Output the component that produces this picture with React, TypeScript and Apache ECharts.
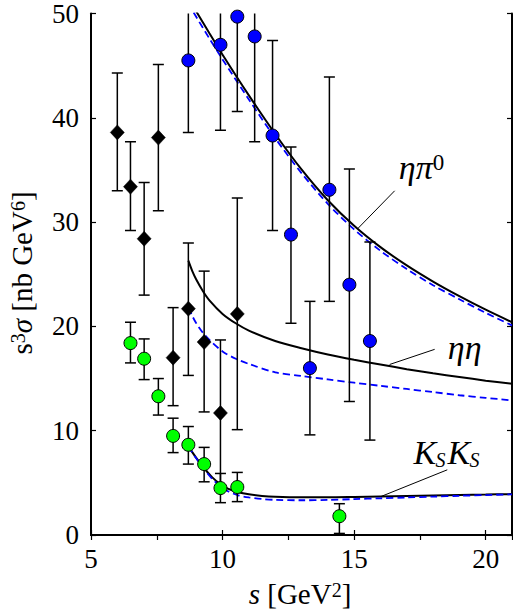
import React, { useEffect, useRef } from 'react';
import * as echarts from 'echarts';

// ---- data: eta pi0 (blue circles) ----
const etaPiX = [8.7, 9.92, 10.56, 11.22, 11.9, 12.6, 13.32, 14.06, 14.82, 15.6];
const etaPiY = [45.5, 47.0, 49.7, 47.8, 38.3, 28.8, 16.0, 33.1, 24.0, 18.6];
const etaPiLo = [38.6, 38.8, 40.6, 37.7, 29.2, 20.3, 9.6, 22.4, 12.8, 9.1];
const etaPiHi = [52.4, 55.2, 58.8, 57.9, 47.4, 37.2, 22.4, 43.9, 35.1, 28.1];

// ---- data: eta eta (black diamonds) ----
const etaEtaX = [6.0, 6.5, 7.02, 7.56, 8.12, 8.7, 9.3, 9.92, 10.56];
const etaEtaY = [38.6, 33.4, 28.4, 38.1, 17.0, 21.7, 18.5, 11.7, 21.2];
const etaEtaLo = [33.0, 29.2, 23.0, 31.1, 12.4, 15.3, 11.8, 4.8, 10.1];
const etaEtaHi = [44.3, 37.7, 33.8, 45.1, 21.8, 28.0, 25.3, 18.7, 32.3];

// ---- data: KsKs (green circles) ----
const ksX = [6.5, 7.02, 7.56, 8.12, 8.7, 9.3, 9.92, 10.56, 14.44];
const ksY = [18.4, 16.9, 13.3, 9.5, 8.65, 6.8, 4.5, 4.6, 1.8];
const ksLo = [16.5, 14.9, 11.5, 7.9, 6.8, 5.1, 3.1, 3.2, 0.15];
const ksHi = [20.4, 18.8, 15.0, 11.2, 10.4, 8.4, 5.9, 6.0, 3.0];

// ---- theory curves ----
const piCurveX = [9.0, 9.5, 10, 11, 12, 13, 14, 15, 16, 17, 18, 19, 20, 21];
const piCurveY = [50.2, 48.1, 46.05, 42.15, 38.45, 35.05, 32.1, 29.65, 27.6, 25.85, 24.3, 22.9, 21.6, 20.4];
const piDashX = [8.9, 9.5, 10, 11, 12, 13, 14, 15, 16, 17, 18, 19, 20, 21];
const piDashY = [50.1, 47.6, 45.6, 41.75, 38.05, 34.7, 31.75, 29.3, 27.25, 25.5, 23.95, 22.6, 21.3, 20.1];

const eeCurveX = [8.7, 8.85, 9.0, 9.25, 9.5, 10, 10.5, 11, 12, 13, 14, 15, 16, 17, 18, 19, 20, 21];
const eeCurveY = [26.3, 25.3, 24.5, 23.4, 22.5, 21.2, 20.3, 19.6, 18.6, 17.9, 17.3, 16.8, 16.35, 15.9, 15.5, 15.15, 14.8, 14.5];
const eeDashX = [8.7, 8.85, 9.0, 9.25, 9.5, 10, 10.5, 11, 12, 13, 14, 15, 16, 17, 18, 19, 20, 21];
const eeDashY = [21.8, 21.0, 20.3, 19.4, 18.7, 17.6, 16.9, 16.4, 15.6, 15.25, 14.92, 14.6, 14.3, 14.0, 13.7, 13.4, 13.15, 12.9];

const ksCurveX = [8.7, 9.0, 9.3, 9.6, 9.9, 10.2, 10.6, 11, 11.5, 12, 13, 14, 15, 16, 17, 18, 19, 20, 21];
const ksCurveY = [8.5, 7.4, 6.4, 5.55, 4.9, 4.45, 4.1, 3.9, 3.75, 3.67, 3.62, 3.62, 3.65, 3.69, 3.74, 3.79, 3.84, 3.88, 3.92];
const ksDashX = [8.7, 9.0, 9.3, 9.6, 9.9, 10.2, 10.6, 11, 11.5, 12, 13, 14, 15, 16, 17, 18, 19, 20, 21];
const ksDashY = [8.5, 7.35, 6.3, 5.4, 4.7, 4.2, 3.8, 3.6, 3.45, 3.37, 3.33, 3.36, 3.44, 3.52, 3.6, 3.68, 3.76, 3.83, 3.9];

// ---- annotations (data coordinates) ----
const annTextPos = [[17.56, 35.2], [19.2, 18.0], [18.55, 7.9]];
const annTail = [[16.54, 33.0], [18.06, 17.8], [18.54, 6.25]];
const annTip = [[15.14, 29.38], [16.35, 16.35], [16.03, 3.7]];

const xTickLabels = [5, 10, 15, 20];
const yTickLabels = [0, 10, 20, 30, 40, 50];

const SERIF = "'Liberation Serif', 'DejaVu Serif', serif";

const zip = (xs: number[], ys: number[]) => xs.map((x, i) => [x, ys[i]]);
const zip3 = (xs: number[], lo: number[], hi: number[]) => xs.map((x, i) => [x, lo[i], hi[i]]);

function errorBarRender(params: any, api: any) {
  const x = api.value(0);
  const lo = api.coord([x, api.value(1)]);
  const hi = api.coord([x, api.value(2)]);
  const w = 5.5;
  const style = { stroke: '#000', lineWidth: 1.5, fill: 'none' };
  return {
    type: 'group',
    children: [
      { type: 'line', shape: { x1: lo[0], y1: lo[1], x2: hi[0], y2: hi[1] }, style },
      { type: 'line', shape: { x1: lo[0] - w, y1: lo[1], x2: lo[0] + w, y2: lo[1] }, style },
      { type: 'line', shape: { x1: hi[0] - w, y1: hi[1], x2: hi[0] + w, y2: hi[1] }, style },
    ],
  };
}

export default function App() {
  const ref = useRef<HTMLDivElement>(null);
  useEffect(() => {
    const chart = echarts.init(ref.current!, null, { renderer: 'svg' });
    const axisLine = { show: true, lineStyle: { color: '#000', width: 2 } };
    const tick = { show: true, inside: true, length: 5, lineStyle: { color: '#000', width: 1.2 } };
    const curve = (data: number[][], dashed: boolean, extra: any = {}) => ({
      type: 'line',
      data,
      showSymbol: false,
      symbol: 'none',
      smooth: 0.3,
      clip: true,
      lineStyle: dashed
        ? { color: '#0000ff', width: 1.8, type: [7, 4] }
        : { color: '#000', width: 2, type: 'solid' },
      z: 2,
      ...extra,
    });
    const arrow = (i: number) => ({
      silent: true,
      symbol: ['none', 'arrow'],
      symbolSize: [0, 9],
      label: { show: false },
      lineStyle: { color: '#000', width: 1, type: 'solid' },
      data: [[{ coord: annTail[i] }, { coord: annTip[i] }]],
    });
    const option: any = {
      animation: false,
      backgroundColor: '#fff',
      grid: { left: 91, right: 1, top: 9, bottom: 74 },
      xAxis: [
        {
          type: 'value', min: 5, max: 21, interval: 5, position: 'bottom',
          axisLine, axisTick: tick, splitLine: { show: false },
          axisLabel: {
            color: '#000', fontFamily: SERIF, fontSize: 27, margin: 10, showMaxLabel: false,
            formatter: (v: number) => (xTickLabels.includes(v) ? String(v) : ''),
          },
        },
        {
          type: 'value', min: 5, max: 21, interval: 2.5, position: 'top',
          axisLine, axisTick: tick, splitLine: { show: false }, axisLabel: { show: false },
        },
      ],
      yAxis: [
        {
          type: 'value', min: 0, max: 50, interval: 10, position: 'left',
          axisLine, axisTick: tick, splitLine: { show: false },
          axisLabel: {
            color: '#000', fontFamily: SERIF, fontSize: 27, margin: 12,
            formatter: (v: number) => (yTickLabels.includes(v) ? String(v) : ''),
          },
        },
        {
          type: 'value', min: 0, max: 50, interval: 10, position: 'right',
          axisLine, axisTick: tick, splitLine: { show: false }, axisLabel: { show: false },
        },
      ],
      series: [
        curve(zip(piCurveX, piCurveY), false, { markLine: arrow(0) }),
        curve(zip(piDashX, piDashY), true),
        curve(zip(eeCurveX, eeCurveY), false, { markLine: arrow(1) }),
        curve(zip(eeDashX, eeDashY), true),
        curve(zip(ksCurveX, ksCurveY), false, { markLine: arrow(2) }),
        curve(zip(ksDashX, ksDashY), true),
        { type: 'custom', renderItem: errorBarRender, data: zip3(etaPiX, etaPiLo, etaPiHi), clip: true, z: 3, silent: true },
        { type: 'custom', renderItem: errorBarRender, data: zip3(etaEtaX, etaEtaLo, etaEtaHi), clip: true, z: 3, silent: true },
        { type: 'custom', renderItem: errorBarRender, data: zip3(ksX, ksLo, ksHi), clip: true, z: 3, silent: true },
        {
          type: 'scatter', data: zip(etaPiX, etaPiY), symbol: 'circle', symbolSize: 13, clip: false, z: 4,
          itemStyle: { color: '#0000ff', borderColor: '#000', borderWidth: 1, opacity: 1 },
        },
        {
          type: 'scatter', data: zip(etaEtaX, etaEtaY), symbol: 'diamond', symbolSize: [14, 15], clip: false, z: 4,
          itemStyle: { color: '#000', borderColor: '#000', borderWidth: 0.5, opacity: 1 },
        },
        {
          type: 'scatter', data: zip(ksX, ksY), symbol: 'circle', symbolSize: 13, clip: false, z: 4,
          itemStyle: { color: '#00ff00', borderColor: '#000', borderWidth: 1, opacity: 1 },
        },
      ],
    };
    chart.setOption(option);

    const px = (p: number[]) => chart.convertToPixel({ xAxisIndex: 0, yAxisIndex: 0 }, p) as number[];
    const ital = { fontFamily: SERIF, fontStyle: 'italic', fontSize: 34, fill: '#000' };
    const rich = {
      i: { fontFamily: SERIF, fontStyle: 'italic', fontSize: 34, color: '#000' },
      r: { fontFamily: SERIF, fontSize: 29, color: '#000' },
      ri: { fontFamily: SERIF, fontStyle: 'italic', fontSize: 29, color: '#000' },
      sup: { fontFamily: SERIF, fontSize: 20, color: '#000', verticalAlign: 'top' },
      sup2: { fontFamily: SERIF, fontSize: 23, color: '#000', verticalAlign: 'top' },
    };
    const graphic: any[] = [];
    const p0 = px(annTextPos[0]);
    graphic.push({
      type: 'text', x: p0[0], y: p0[1], z: 10,
      style: { ...ital, text: '{i|ηπ}{sup2|0}', rich, align: 'center', verticalAlign: 'middle' },
    });
    const p1 = px(annTextPos[1]);
    graphic.push({
      type: 'text', x: p1[0], y: p1[1], z: 10,
      style: { ...ital, text: 'ηη', align: 'center', verticalAlign: 'middle' },
    });
    const p2 = px(annTextPos[2]);
    const subStyle = { fontFamily: SERIF, fontStyle: 'italic', fontSize: 20, fill: '#000', align: 'left', verticalAlign: 'middle' };
    const bigStyle = { ...ital, align: 'left', verticalAlign: 'middle' };
    graphic.push({
      type: 'group', x: p2[0] - 34, y: p2[1], z: 10,
      children: [
        { type: 'text', x: 0, y: 0, style: { ...bigStyle, text: 'K' } },
        { type: 'text', x: 22, y: 7, style: { ...subStyle, text: 'S' } },
        { type: 'text', x: 34, y: 0, style: { ...bigStyle, text: 'K' } },
        { type: 'text', x: 56, y: 7, style: { ...subStyle, text: 'S' } },
      ],
    });
    graphic.push({
      type: 'text', x: 22, y: 273, rotation: Math.PI / 2, z: 10,
      style: {
        text: '{r|s}{sup|3}{ri|σ}{r| [nb GeV}{sup|6}{r|]}',
        rich, align: 'center', verticalAlign: 'middle', fontFamily: SERIF, fontSize: 29, fill: '#000',
      },
    });
    graphic.push({
      type: 'text', x: 300, y: 594, z: 10,
      style: {
        text: '{ri|s}{r| [GeV}{sup|2}{r|]}',
        rich, align: 'center', verticalAlign: 'middle', fontFamily: SERIF, fontSize: 29, fill: '#000',
      },
    });
    chart.setOption({ graphic });

    return () => chart.dispose();
  }, []);
  return <div ref={ref} style={{ position: 'absolute', left: 0, top: 0, width: 513, height: 609 }} />;
}
